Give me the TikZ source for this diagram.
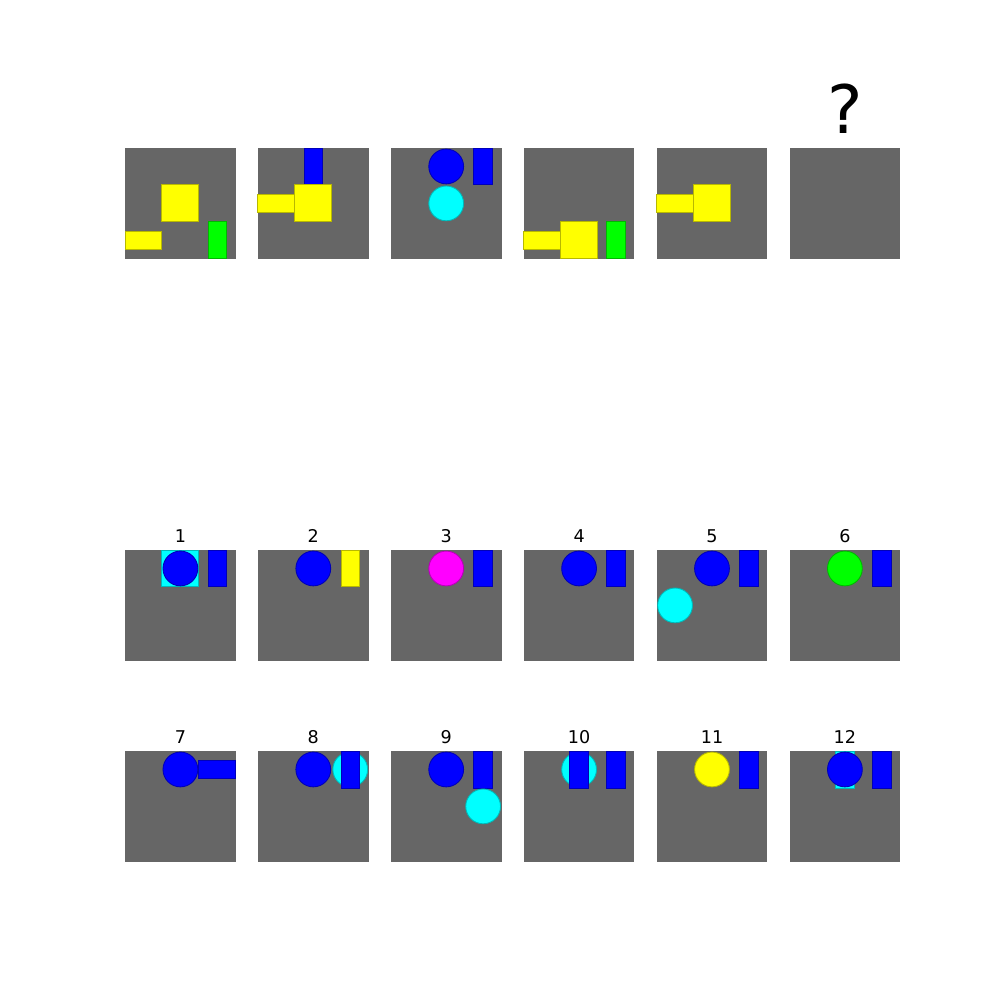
\documentclass[tikz,border=0pt]{standalone}
\usepackage{fontspec}
\setmainfont{DejaVu Sans}
\definecolor{panelgray}{RGB}{102,102,102}
\definecolor{cyanc}{RGB}{0,255,255}
\definecolor{bluec}{RGB}{0,0,255}
\definecolor{yellowc}{RGB}{255,255,0}
\definecolor{greenc}{RGB}{0,255,0}
\definecolor{magentac}{RGB}{255,0,255}
\def\cw{36.93}
\newcommand{\cellsq}[3]{\path[shp=#1] ({#2*\cw},{#3*\cw}) rectangle ({(#2+1)*\cw},{(#3+1)*\cw});}
\newcommand{\cellvb}[3]{\path[shp=#1] ({(#2+0.25)*\cw},{#3*\cw}) rectangle ({(#2+0.75)*\cw},{(#3+1)*\cw});}
\newcommand{\cellhb}[3]{\path[shp=#1] ({#2*\cw},{(#3+0.25)*\cw}) rectangle ({(#2+1)*\cw},{(#3+0.75)*\cw});}
\newcommand{\cellci}[3]{\path[shp=#1] ({(#2+0.5)*\cw},{(#3+0.5)*\cw}) circle[radius=17.4];}
\newcommand{\panelbg}{\path[fill=panelgray] (0,0) rectangle ({3*\cw},{3*\cw});}
\tikzset{
  shp/.style={fill=#1, draw=#1!72!black, line width=0.25pt},
  lbl/.style={anchor=base, inner sep=0pt, font=\fontsize{5}{6}\selectfont},
  qlbl/.style={anchor=base, inner sep=0pt, font=\fontsize{19}{22}\selectfont}
}
\begin{document}
\begin{tikzpicture}[x=0.01cm,y=-0.01cm]
\useasboundingbox (0,0) rectangle (1000,1000);
\fill[white] (0,0) rectangle (1000,1000);
% ---------- top row (question) ----------
\begin{scope}[shift={(125,148)}]
  \panelbg \cellsq{yellowc}{1}{1} \cellhb{yellowc}{0}{2} \cellvb{greenc}{2}{2}
\end{scope}
\begin{scope}[shift={(257.9,148)}]
  \panelbg \cellvb{bluec}{1}{0} \cellsq{yellowc}{1}{1} \cellhb{yellowc}{0}{1}
\end{scope}
\begin{scope}[shift={(390.8,148)}]
  \panelbg \cellci{bluec}{1}{0} \cellvb{bluec}{2}{0} \cellci{cyanc}{1}{1}
\end{scope}
\begin{scope}[shift={(523.7,148)}]
  \panelbg \cellhb{yellowc}{0}{2} \cellsq{yellowc}{1}{2} \cellvb{greenc}{2}{2}
\end{scope}
\begin{scope}[shift={(656.6,148)}]
  \panelbg \cellhb{yellowc}{0}{1} \cellsq{yellowc}{1}{1}
\end{scope}
\begin{scope}[shift={(789.5,148)}]
  \panelbg
\end{scope}
\node[qlbl] (q) at (844.9,133) {?};
% ---------- answer row 1 ----------
\begin{scope}[shift={(125,550)}]
  \panelbg \cellsq{cyanc}{1}{0} \cellci{bluec}{1}{0} \cellvb{bluec}{2}{0}
\end{scope}
\begin{scope}[shift={(257.9,550)}]
  \panelbg \cellci{bluec}{1}{0} \cellvb{yellowc}{2}{0}
\end{scope}
\begin{scope}[shift={(390.8,550)}]
  \panelbg \cellci{magentac}{1}{0} \cellvb{bluec}{2}{0}
\end{scope}
\begin{scope}[shift={(523.7,550)}]
  \panelbg \cellci{bluec}{1}{0} \cellvb{bluec}{2}{0}
\end{scope}
\begin{scope}[shift={(656.6,550)}]
  \panelbg \cellci{bluec}{1}{0} \cellvb{bluec}{2}{0} \cellci{cyanc}{0}{1}
\end{scope}
\begin{scope}[shift={(789.5,550)}]
  \panelbg \cellci{greenc}{1}{0} \cellvb{bluec}{2}{0}
\end{scope}
\node[lbl] (l1) at (180.4,542.3) {1};
\node[lbl] (l2) at (313.3,542.3) {2};
\node[lbl] (l3) at (446.2,542.3) {3};
\node[lbl] (l4) at (579.1,542.3) {4};
\node[lbl] (l5) at (712.0,542.3) {5};
\node[lbl] (l6) at (844.9,542.3) {6};
% ---------- answer row 2 ----------
\begin{scope}[shift={(125,751)}]
  \panelbg \cellci{bluec}{1}{0} \cellhb{bluec}{2}{0}
\end{scope}
\begin{scope}[shift={(257.9,751)}]
  \panelbg \cellci{bluec}{1}{0} \cellci{cyanc}{2}{0} \cellvb{bluec}{2}{0}
\end{scope}
\begin{scope}[shift={(390.8,751)}]
  \panelbg \cellci{bluec}{1}{0} \cellvb{bluec}{2}{0} \cellci{cyanc}{2}{1}
\end{scope}
\begin{scope}[shift={(523.7,751)}]
  \panelbg \cellci{cyanc}{1}{0} \cellvb{bluec}{1}{0} \cellvb{bluec}{2}{0}
\end{scope}
\begin{scope}[shift={(656.6,751)}]
  \panelbg \cellci{yellowc}{1}{0} \cellvb{bluec}{2}{0}
\end{scope}
\begin{scope}[shift={(789.5,751)}]
  \panelbg \cellvb{cyanc}{1}{0} \cellci{bluec}{1}{0} \cellvb{bluec}{2}{0}
\end{scope}
\node[lbl] (l7) at (180.4,743.5) {7};
\node[lbl] (l8) at (313.3,743.5) {8};
\node[lbl] (l9) at (446.2,743.5) {9};
\node[lbl] (l10) at (579.1,743.5) {10};
\node[lbl] (l11) at (712.0,743.5) {11};
\node[lbl] (l12) at (844.9,743.5) {12};
\end{tikzpicture}
\end{document}
